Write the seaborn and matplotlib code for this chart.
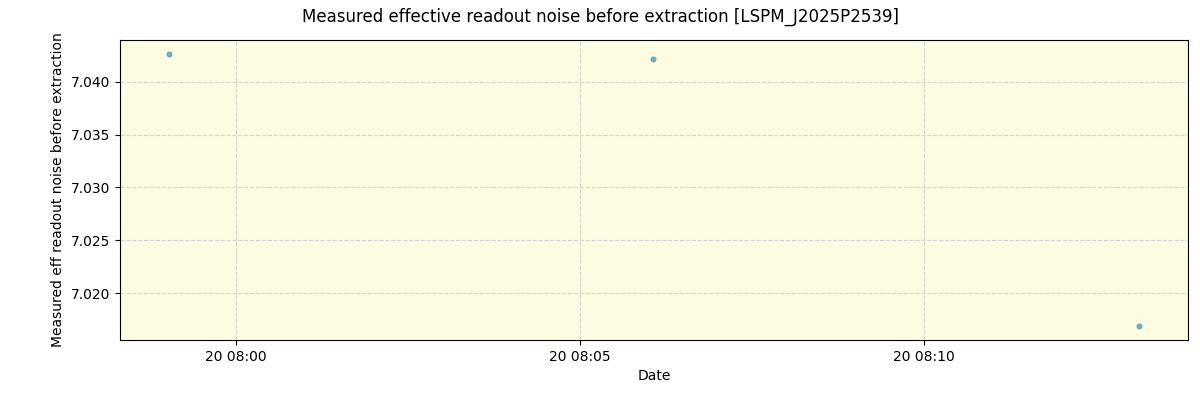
import matplotlib
matplotlib.use("Agg")
import matplotlib.pyplot as plt
import matplotlib.dates as mdates
import seaborn as sns
import pandas as pd

times = ["2023-06-20 07:59:01", "2023-06-20 08:06:04", "2023-06-20 08:13:08"]
values = [7.04265, 7.04218, 7.01687]

df = pd.DataFrame({"Date": pd.to_datetime(times), "value": values})

fig = plt.figure(figsize=(12, 4), dpi=100)
ax = fig.add_axes([0.1, 0.15, 0.89, 0.75])
ax.set_facecolor("#fdfbe2")
sns.scatterplot(data=df, x="Date", y="value", ax=ax, s=14, color="#1f77b4",
                alpha=0.6, edgecolor="#1f77b4", linewidth=0.5)
ax.grid(True, linestyle="--", color="lightgray", linewidth=0.8)
ax.set_axisbelow(True)
ax.xaxis.set_major_locator(mdates.MinuteLocator(byminute=[0, 5, 10, 15, 20, 25, 30, 35, 40, 45, 50, 55]))
ax.xaxis.set_major_formatter(mdates.DateFormatter("%d %H:%M"))
ax.set_xlabel("Date")
ax.set_ylabel("Measured eff readout noise before extraction")
fig.suptitle("Measured effective readout noise before extraction [LSPM_J2025P2539]", fontsize=12)
fig.savefig("out.png", dpi=100)
